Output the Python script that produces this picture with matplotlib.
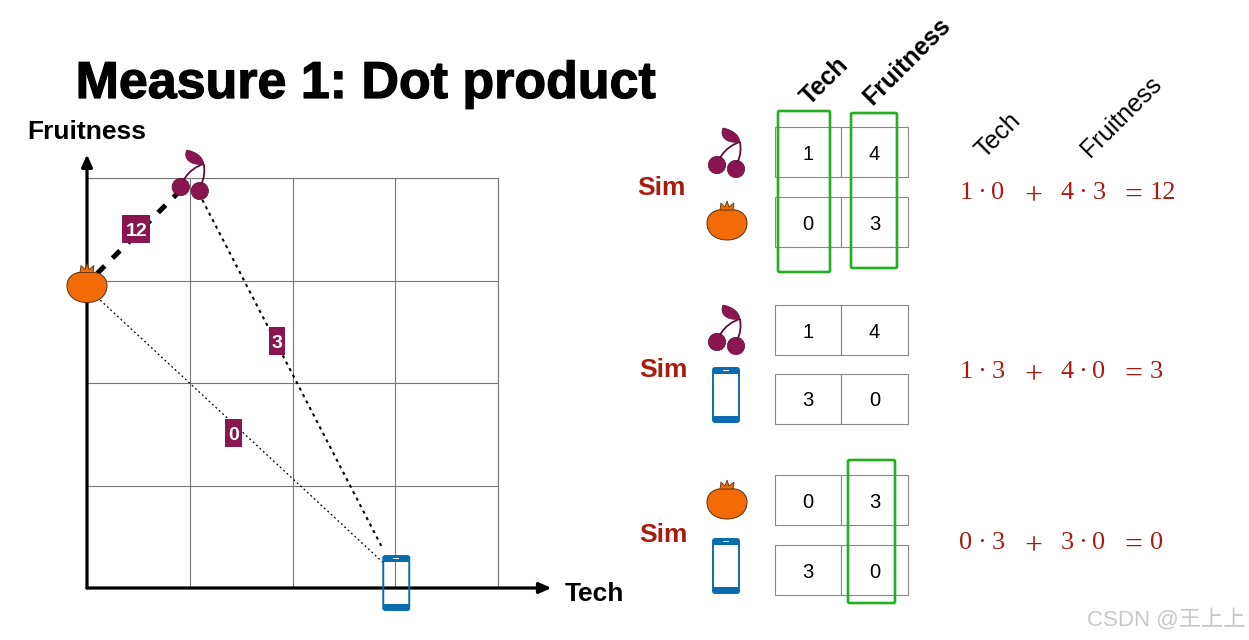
import matplotlib
matplotlib.use("Agg")
import matplotlib.pyplot as plt
import matplotlib.patheffects as pe
from matplotlib.patches import Rectangle, Circle, PathPatch, FancyBboxPatch
from matplotlib.path import Path

plt.rcParams['font.family'] = ['Liberation Sans', 'DejaVu Sans']

# vectors: (tech, fruitness)
axis_names = ["Tech", "Fruitness"]
cherry = [1, 4]
tomato = [0, 3]
phone = [3, 0]

# similarity links: start, end, dot product, label position
link_starts = [[0.10, 3.07], [1.09, 3.85], [0.03, 2.90]]
link_ends = [[0.93, 3.90], [2.88, 0.38], [2.88, 0.25]]
link_values = [12, 3, 0]
link_label_pos = [[0.48, 3.50], [1.85, 2.41], [1.43, 1.51]]

# rows on the right side
table_rows = [[[1, 4], [0, 3]], [[1, 4], [3, 0]], [[0, 3], [3, 0]]]
row_icons = [["cherry", "tomato"], ["cherry", "phone"], ["tomato", "phone"]]
row_results = [12, 3, 0]

RED = "#a81c10"
MAROON = "#8a1650"
ORANGE = "#f26b06"
BLUE = "#0a6cae"
GREEN = "#22b020"
W, H = 1249, 640


def draw_tomato(ax, cx, cy, s=1.0):
    verts = [(-20, 2), (-20, -7), (-12, -13), (0, -11), (12, -13), (20, -7), (20, 2),
             (20, 13), (11, 19), (0, 19), (-11, 19), (-20, 13), (-20, 2)]
    codes = [Path.MOVETO] + [Path.CURVE4] * 12
    body = Path([(cx + x * s, cy + y * s) for x, y in verts], codes)
    ax.add_patch(PathPatch(body, fc=ORANGE, ec="#5a3010", lw=0.7, zorder=5))
    crown = [(-7, -11), (-6, -18), (-2, -14), (0, -20), (2, -14), (7, -18), (6, -11)]
    ax.fill([cx + x * s for x, y in crown], [cy + y * s for x, y in crown],
            fc=ORANGE, ec="#5a3010", lw=0.6, zorder=5)


def draw_cherry(ax, cx, cy, s=1.0):
    ax.add_patch(Circle((cx - 10 * s, cy + 12 * s), 8.7 * s, fc=MAROON, ec="#5a1038", lw=0.5, zorder=5))
    ax.add_patch(Circle((cx + 9 * s, cy + 16 * s), 8.7 * s, fc=MAROON, ec="#5a1038", lw=0.5, zorder=5))
    stem1 = Path([(cx - 7 * s, cy + 5 * s), (cx - 2 * s, cy - 4 * s), (cx + 6 * s, cy - 9 * s), (cx + 13 * s, cy - 11 * s)],
                 [Path.MOVETO, Path.CURVE4, Path.CURVE4, Path.CURVE4])
    stem2 = Path([(cx + 10 * s, cy + 10 * s), (cx + 14 * s, cy + 3 * s), (cx + 14 * s, cy - 5 * s), (cx + 13 * s, cy - 11 * s)],
                 [Path.MOVETO, Path.CURVE4, Path.CURVE4, Path.CURVE4])
    ax.add_patch(PathPatch(stem1, fc="none", ec="#5a1038", lw=1.3, zorder=5))
    ax.add_patch(PathPatch(stem2, fc="none", ec="#5a1038", lw=1.3, zorder=5))
    leaf = [(-4, -25), (-8, -16), (0, -9), (13, -11), (12, -18), (6, -23), (-4, -25)]
    leaf_path = Path([(cx + x * s, cy + y * s) for x, y in leaf], [Path.MOVETO] + [Path.CURVE4] * 6)
    ax.add_patch(PathPatch(leaf_path, fc=MAROON, ec="#5a1038", lw=0.5, zorder=5))


def draw_phone(ax, cx, cy, s=1.0):
    # see-through screen, the grid shows inside it
    ax.add_patch(FancyBboxPatch((cx - 13 * s, cy - 27 * s), 26 * s, 54 * s, boxstyle="round,pad=0,rounding_size=2",
                                fc="none", ec=BLUE, lw=1.4, zorder=5))
    ax.add_patch(Rectangle((cx - 13 * s, cy - 27 * s), 26 * s, 5.5 * s, fc=BLUE, ec="none", zorder=5))
    ax.add_patch(Rectangle((cx - 13 * s, cy + 21 * s), 26 * s, 6 * s, fc=BLUE, ec="none", zorder=5))
    ax.add_patch(Rectangle((cx - 3 * s, cy - 25 * s), 6 * s, 1.2, fc="white", ec="none", zorder=6))


ICONS = {"cherry": draw_cherry, "tomato": draw_tomato, "phone": draw_phone}

fig = plt.figure(figsize=(W / 100, H / 100), dpi=100)

# coordinate plane
ax = fig.add_axes([87 / W, (H - 588) / H, 411 / W, 410 / H])
ax.set_xlim(0, 4)
ax.set_ylim(0, 4)
ax.set_xticks([1, 2, 3, 4])
ax.set_yticks([1, 2, 3, 4])
ax.grid(True, color="#777777", lw=0.8)
ax.tick_params(length=0, labelbottom=False, labelleft=False)
for name in ["top", "right", "left", "bottom"]:
    ax.spines[name].set_visible(False)
ax.set_axisbelow(True)
ax.plot([4, 4], [0, 4], color="#777777", lw=0.8, clip_on=False)
ax.plot([0, 4], [4, 4], color="#777777", lw=0.8, clip_on=False)
arrow = dict(arrowstyle="-|>,head_width=0.16,head_length=0.36", mutation_scale=20, color="black", lw=2.3,
             shrinkA=0, shrinkB=0)
ax.annotate("", xy=(4.52, 0), xytext=(0, 0), arrowprops=arrow, annotation_clip=False)
ax.annotate("", xy=(0, 4.23), xytext=(0, 0), arrowprops=arrow, annotation_clip=False)

link_styles = [dict(lw=3.6, ls=(0, (2.1, 2.2))), dict(lw=1.5, ls=(0, (1.5, 2))), dict(lw=0.9, ls=(0, (1.5, 2.2)))]
for a, b, style in zip(link_starts, link_ends, link_styles):
    ax.plot([a[0], b[0]], [a[1], b[1]], color="black", clip_on=False, zorder=3, **style)

# everything else sits on a pixel-sized layer
top = fig.add_axes([0, 0, 1, 1], facecolor="none")
top.set_xlim(0, W)
top.set_ylim(H, 0)
top.axis("off")


def to_px(point):
    return top.transData.inverted().transform(ax.transData.transform(point))


for val, pos, w in zip(link_values, link_label_pos, [28, 16, 17]):
    px = to_px(pos)
    top.add_patch(Rectangle((px[0] - w / 2, px[1] - 14), w, 28, fc=MAROON, ec="none", zorder=4))
    top.text(px[0], px[1] + 7, str(val), color="white", fontsize=14, fontweight="bold", ha="center", va="baseline",
             zorder=4)

for name, vec, off in [("cherry", cherry, (1, -3)), ("tomato", tomato, (0, 3)), ("phone", phone, (1, -5))]:
    px = to_px(vec)
    ICONS[name](top, px[0] + off[0], px[1] + off[1])

top.text(365, 98, "Measure 1: Dot product", fontsize=37.4, fontweight="bold", ha="center", va="baseline",
         path_effects=[pe.withStroke(linewidth=0.9, foreground="black")])
top.text(87, 139, axis_names[1], fontsize=19, fontweight="bold", ha="center", va="baseline")
top.text(594, 601, axis_names[0], fontsize=19, fontweight="bold", ha="center", va="baseline")

top.text(825, 81, axis_names[0], fontsize=18, fontweight="bold", rotation=45, ha="center", va="center")
top.text(907, 61, axis_names[1], fontsize=18, fontweight="bold", rotation=45, ha="center", va="center")
top.text(998, 135, axis_names[0], fontsize=18, rotation=45, ha="center", va="center")
top.text(1121, 117, axis_names[1], fontsize=18, rotation=45, ha="center", va="center")

table_tops = [[127, 197], [305, 374], [475, 545]]
sim_pos = [(661, 195), (663, 377), (663, 542)]
icon_ys = [[153, 221], [330, 395], [500, 566]]
eq_ys = [199, 378, 549]
eq_x = [966, 982, 998, 1033, 1067, 1083, 1099, 1133]
eq_size = [19, 19, 19, 23, 19, 19, 19, 23]
eq_drop = [0, 0, 0, 5, 0, 0, 0, 5]

for rows, tops, names, ys, sim, ey, res in zip(table_rows, table_tops, row_icons, icon_ys, sim_pos, eq_ys, row_results):
    for vals, y0, name, iy in zip(rows, tops, names, ys):
        for j, v in enumerate(vals):
            top.add_patch(Rectangle((775 + j * 66.5, y0), 66.5, 50, fc="white", ec="#888888", lw=0.8))
            top.text(808 + j * 66.5, y0 + 32.5, str(v), fontsize=14.5, ha="center", va="baseline")
        ICONS[name](top, 727 if name != "phone" else 726, iy)
    top.text(sim[0], sim[1], "Sim", color=RED, fontsize=19, fontweight="bold", ha="center", va="baseline")
    a, b = rows
    parts = [a[0], "\u00b7", b[0], "+", a[1], "\u00b7", b[1], "="]
    for x, p, fs, d in zip(eq_x, parts, eq_size, eq_drop):
        top.text(x, ey + d, str(p), color=RED, fontsize=fs, family="Liberation Serif", ha="center", va="baseline")
    top.text(1150, ey, str(res), color=RED, fontsize=19, family="Liberation Serif", ha="left", va="baseline")

for x0, y0, x1, y1 in [(778, 111, 830, 272), (851, 113, 897, 268), (848, 460, 895, 603)]:
    top.add_patch(FancyBboxPatch((x0, y0), x1 - x0, y1 - y0, boxstyle="round,pad=0,rounding_size=1.5",
                                 fc="none", ec=GREEN, lw=1.9, zorder=7))

top.text(1166, 620, "CSDN @王上上", color="#c8c8c8", fontsize=16, ha="center", va="center",
         family=["Liberation Sans", "Noto Sans CJK SC"])

fig.savefig("out.png", dpi=100)
